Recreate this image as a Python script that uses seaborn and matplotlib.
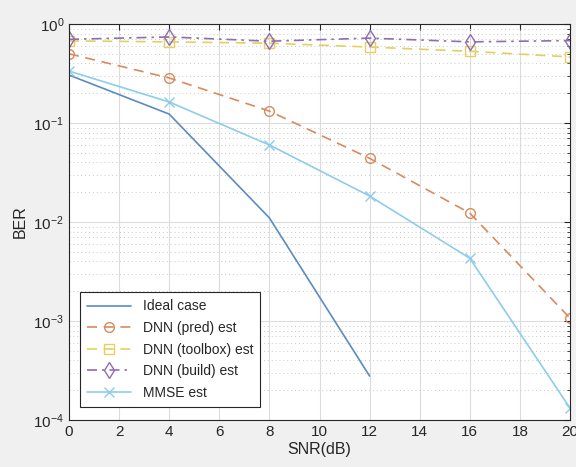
import numpy as np
import pandas as pd
import matplotlib
matplotlib.use("Agg")
import matplotlib.pyplot as plt
import seaborn as sns
from matplotlib.ticker import LogLocator, NullFormatter

snr = [0, 4, 8, 12, 16, 20]
ideal_x = [0, 4, 8, 12]
ideal = [0.305, 0.123, 0.011, 2.78e-4]
dnn_pred = [0.50, 0.285, 0.132, 0.044, 0.0123, 1.07e-3]
dnn_toolbox = [0.675, 0.66, 0.64, 0.585, 0.53, 0.465]
dnn_build = [0.70, 0.74, 0.67, 0.72, 0.66, 0.68]
mmse = [0.335, 0.163, 0.060, 0.0183, 0.0043, 1.32e-4]

sns.set_style("white")
plt.rcParams['font.family'] = ['Liberation Sans', 'DejaVu Sans']

fig = plt.figure(figsize=(5.76, 4.67), dpi=100, facecolor='#f0f0f0')
ax = fig.add_axes([69/576, 1-420/467, (570-69)/576, (420-24)/467])
ax.set_facecolor('white')

c_ideal = '#5a8cc0'
c_pred = '#d98a5e'
c_tool = '#e6cf5f'
c_build = '#8f6db3'
c_mmse = '#8dcdeb'

sns.lineplot(x=ideal_x, y=ideal, ax=ax, color=c_ideal, lw=1.2, label='Ideal case')
sns.lineplot(x=snr, y=dnn_pred, ax=ax, color=c_pred, lw=1.2, linestyle=(0, (6, 4)),
             marker='o', markersize=7, markerfacecolor='none', markeredgecolor=c_pred,
             markeredgewidth=1.0, label='DNN (pred) est')
sns.lineplot(x=snr, y=dnn_toolbox, ax=ax, color=c_tool, lw=1.2, linestyle=(0, (6, 4)),
             marker='s', markersize=6.5, markerfacecolor='none', markeredgecolor=c_tool,
             markeredgewidth=1.0, label='DNN (toolbox) est')
sns.lineplot(x=snr, y=dnn_build, ax=ax, color=c_build, lw=1.2, linestyle=(0, (6, 3, 1.5, 3)),
             marker='d', markersize=8, markerfacecolor='none', markeredgecolor=c_build,
             markeredgewidth=1.0, label='DNN (build) est')
sns.lineplot(x=snr, y=mmse, ax=ax, color=c_mmse, lw=1.2,
             marker='x', markersize=6.5, markeredgecolor=c_mmse, markeredgewidth=1.0,
             label='MMSE est')

ax.set_yscale('log')
ax.set_xlim(0, 20)
ax.set_ylim(1e-4, 1)
ax.set_xticks(range(0, 21, 2))
ax.yaxis.set_major_locator(LogLocator(base=10, numticks=10))
ax.yaxis.set_minor_locator(LogLocator(base=10, subs=np.arange(2, 10), numticks=20))
ax.yaxis.set_minor_formatter(NullFormatter())

ax.grid(True, which='major', color='#dcdcdc', lw=0.8, ls='-')
ax.grid(True, which='minor', axis='y', color='#c8c8c8', lw=0.7, ls=(0, (1, 3)))
ax.set_axisbelow(True)
for s in ax.spines.values():
    s.set_color('#262626')
    s.set_linewidth(0.8)
ax.tick_params(axis='both', which='both', direction='in', top=True, right=True,
               labelsize=11, colors='#262626', length=4)
ax.tick_params(axis='y', which='minor', length=2)

ax.set_xlabel('SNR(dB)', fontsize=11.5, color='#262626', labelpad=2)
ax.set_ylabel('BER', fontsize=11.5, color='#262626', labelpad=4)

leg = ax.legend(loc='lower left', bbox_to_anchor=(0.022, 0.033), fontsize=10, frameon=True,
                fancybox=False, edgecolor='#262626', framealpha=1, handlelength=3.2,
                borderpad=0.5, labelspacing=0.55, borderaxespad=0)
leg.get_frame().set_linewidth(0.8)

fig.savefig('out.png', dpi=100, facecolor=fig.get_facecolor())
